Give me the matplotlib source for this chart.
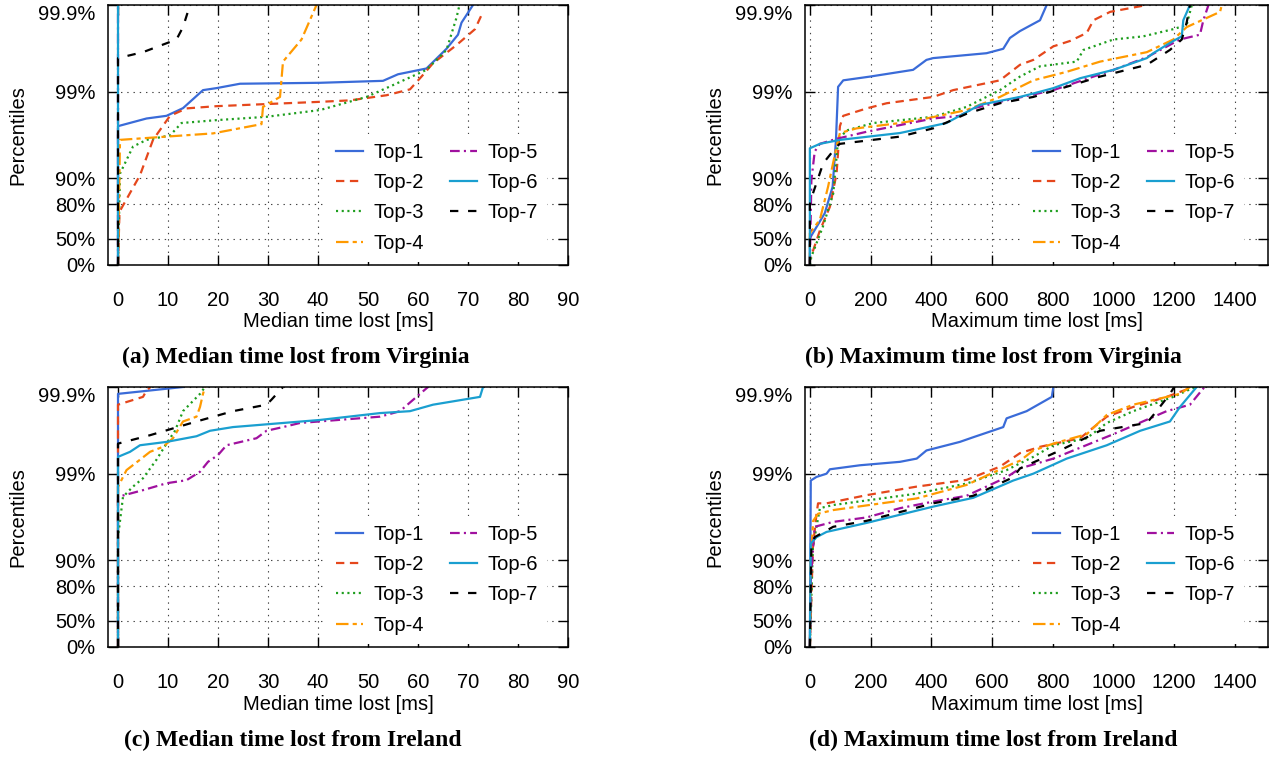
import numpy as np
import matplotlib
matplotlib.use('Agg')
import matplotlib.pyplot as plt

plt.rcParams['font.family'] = ['Liberation Sans', 'DejaVu Sans']
plt.rcParams['lines.scale_dashes'] = False

labels = ['Top-1', 'Top-2', 'Top-3', 'Top-4', 'Top-5', 'Top-6', 'Top-7']

# (a) median time lost from Virginia  (ms, percentile)
a1_ms = [0, 0, 5.7, 9.7, 13, 17, 19.7, 24.4, 40.4, 53, 56, 61.7, 65.7, 68, 68.7, 71]
a1_pct = [0, 97.5, 97.96, 98.1, 98.45, 99.04, 99.09, 99.19, 99.21, 99.25, 99.37, 99.46, 99.68, 99.78, 99.84, 99.9]
a2_ms = [0, 0.3, 4.4, 7, 10.4, 13.7, 19.7, 29.7, 40.4, 46.4, 53.7, 58.4, 60.7, 63, 67.7, 71.4, 73]
a2_pct = [0, 75.7, 90.8, 96.4, 98.1, 98.44, 98.53, 98.61, 98.69, 98.74, 98.9, 99.06, 99.33, 99.53, 99.71, 99.81, 99.88]
a3_ms = [0, 0.4, 3, 5.7, 10.4, 12.7, 19.7, 29.7, 40.4, 49.7, 55, 61.7, 65.7, 67.7, 68.3]
a3_pct = [0, 91.2, 95.7, 96.4, 96.8, 97.7, 97.87, 98.05, 98.37, 98.85, 99.16, 99.44, 99.67, 99.86, 99.9]
a4_ms = [0, 0.4, 9.7, 19, 28.7, 29, 32.4, 33, 36.7, 39.7]
a4_pct = [0, 96.4, 96.7, 96.97, 97.63, 98.5, 98.85, 99.55, 99.75, 99.9]
a5_ms = [0, 0]
a5_pct = [0, 99.9]
a6_ms = [0, 0]
a6_pct = [0, 99.9]
a7_ms = [0, 0, 5, 11.7, 13, 14.4]
a7_pct = [0, 99.59, 99.65, 99.75, 99.82, 99.9]

# (b) maximum time lost from Virginia
b1_ms = [0, 0, 49, 75, 86, 93, 110, 198, 340, 384, 406, 582, 637, 659, 692, 758, 780]
b1_pct = [0, 51, 74.7, 87.5, 96.4, 99.12, 99.26, 99.33, 99.44, 99.57, 99.59, 99.64, 99.68, 99.76, 99.8, 99.85, 99.9]
b2_ms = [0, 0, 33, 66, 88, 99, 110, 187, 253, 406, 472, 626, 692, 736, 802, 857, 912, 934, 989, 1110]
b2_pct = [0, 12, 60, 78.7, 91.2, 97.5, 98.1, 98.44, 98.64, 98.85, 99.04, 99.26, 99.51, 99.57, 99.7, 99.74, 99.79, 99.85, 99.88, 99.9]
b3_ms = [0, 5, 43, 77, 93, 121, 209, 406, 516, 626, 692, 758, 879, 901, 1000, 1098, 1197, 1241, 1258]
b3_pct = [0, 20, 64, 85, 96.4, 97.2, 97.7, 98.05, 98.5, 99.04, 99.33, 99.49, 99.55, 99.67, 99.75, 99.77, 99.81, 99.83, 99.9]
b4_ms = [0, 0, 33, 60, 88, 99, 154, 297, 384, 516, 626, 736, 846, 956, 1110, 1197, 1241, 1351, 1357]
b4_pct = [0, 57, 70, 87.5, 95.7, 97, 97.35, 97.7, 97.96, 98.37, 98.85, 99.26, 99.41, 99.55, 99.65, 99.75, 99.82, 99.88, 99.9]
b5_ms = [0, 5, 16, 33, 88, 187, 406, 494, 538, 626, 802, 1000, 1110, 1219, 1285, 1296, 1313]
b5_pct = [0, 89.5, 95.1, 96.0, 96.5, 97.1, 97.96, 98.1, 98.44, 98.69, 99.04, 99.44, 99.6, 99.75, 99.78, 99.85, 99.9]
b6_ms = [0, 0, 33, 99, 297, 450, 560, 692, 736, 802, 890, 1000, 1110, 1131, 1197, 1225, 1230, 1252]
b6_pct = [0, 95.5, 96.0, 96.4, 97.0, 97.7, 98.58, 98.85, 98.95, 99.09, 99.3, 99.44, 99.59, 99.64, 99.74, 99.77, 99.85, 99.9]
b7_ms = [0, 0, 10, 44, 88, 99, 297, 406, 516, 626, 736, 956, 1110, 1186, 1225, 1241, 1252]
b7_pct = [0, 80, 85, 93.3, 95.7, 96.0, 96.7, 97.35, 98.2, 98.64, 98.85, 99.33, 99.51, 99.67, 99.75, 99.84, 99.9]

# (c) median time lost from Ireland
c1_ms = [0, 0, 13]
c1_pct = [0, 99.88, 99.9]
c2_ms = [0, 0, 5, 5.7, 6.5]
c2_pct = [0, 99.84, 99.87, 99.89, 99.9]
c3_ms = [0, 0, 1, 3, 5, 7.7, 9.7, 11.4, 13, 16.4, 17.4]
c3_pct = [0, 94.6, 98.15, 98.59, 98.87, 99.31, 99.55, 99.68, 99.81, 99.88, 99.9]
c4_ms = [0, 0, 1.7, 4.4, 6.4, 9, 11, 13, 15.7, 16.4, 17, 17.4]
c4_pct = [0, 98.58, 99.09, 99.31, 99.44, 99.51, 99.61, 99.75, 99.78, 99.83, 99.88, 99.9]
c5_ms = [0, 0, 5, 9.7, 13.7, 16.4, 18, 20, 21.7, 27.7, 29.7, 33, 36.4, 52.4, 56.4, 59.7, 62]
c5_pct = [0, 98.15, 98.45, 98.71, 98.81, 99.05, 99.27, 99.39, 99.53, 99.61, 99.68, 99.71, 99.74, 99.78, 99.81, 99.87, 99.9]
c6_ms = [0, 0, 2.4, 4.4, 9.7, 15.7, 18.4, 23, 40.4, 52.4, 58.4, 63, 72.4, 73]
c6_pct = [0, 99.36, 99.44, 99.53, 99.57, 99.63, 99.68, 99.71, 99.76, 99.8, 99.81, 99.84, 99.87, 99.9]
c7_ms = [0, 0, 6.4, 15.7, 23, 29.7, 30.7, 33]
c7_pct = [0, 99.55, 99.64, 99.75, 99.81, 99.84, 99.86, 99.9]

# (d) maximum time lost from Ireland
d1_ms = [0, 3, 22, 55, 66, 165, 297, 352, 384, 494, 538, 637, 648, 714, 797, 802]
d1_pct = [0, 98.8, 98.91, 99.0, 99.11, 99.2, 99.27, 99.33, 99.46, 99.57, 99.62, 99.71, 99.77, 99.81, 99.87, 99.9]
d2_ms = [0, 10, 22, 27, 55, 187, 352, 516, 626, 692, 758, 890, 978, 1065, 1175, 1263]
d2_pct = [0, 93, 97.1, 97.8, 97.8, 98.23, 98.59, 98.82, 99.17, 99.42, 99.51, 99.61, 99.78, 99.83, 99.87, 99.9]
d3_ms = [0, 10, 33, 77, 352, 516, 648, 692, 736, 802, 912, 978, 1065, 1197, 1269]
d3_pct = [0, 93, 97.5, 97.7, 98.3, 98.7, 99.09, 99.24, 99.36, 99.53, 99.61, 99.74, 99.81, 99.87, 99.9]
d4_ms = [0, 3, 11, 27, 77, 352, 516, 670, 692, 736, 802, 912, 978, 1065, 1219, 1252]
d4_pct = [0, 90, 96.5, 97.1, 97.37, 98.07, 98.65, 99.24, 99.29, 99.46, 99.55, 99.65, 99.79, 99.84, 99.88, 99.9]
d5_ms = [0, 3, 11, 16, 77, 187, 297, 406, 516, 648, 692, 802, 1000, 1175, 1252, 1290, 1300]
d5_pct = [0, 83, 93, 95.9, 96.4, 96.8, 97.5, 97.9, 98.2, 98.9, 99.13, 99.33, 99.65, 99.81, 99.84, 99.89, 99.9]
d6_ms = [0, 3, 22, 55, 187, 406, 538, 670, 736, 846, 978, 1088, 1186, 1219, 1274]
d6_pct = [0, 93.6, 94.6, 95.3, 96.3, 97.6, 98.1, 98.8, 99.0, 99.33, 99.53, 99.68, 99.75, 99.83, 99.9]
d7_ms = [0, 5, 16, 77, 187, 406, 538, 670, 692, 824, 956, 1110, 1142, 1186, 1200]
d7_pct = [0, 93, 94.6, 95.9, 96.5, 97.8, 98.2, 98.9, 99.13, 99.46, 99.68, 99.74, 99.81, 99.88, 99.9]

colors = ['#3a6bd8', '#e5471c', '#1e9e1e', '#ff9a00', '#a0119f', '#1a9fd0', '#000000']
dashes = [None, (6, 4), (1.5, 2.6), (9, 3, 3, 3), (7, 3, 1.5, 3), None, (6, 7)]

ytick_pct = [0, 50, 80, 90, 99, 99.9]
ytick_lbl = ['0%', '50%', '80%', '90%', '99%', '99.9%']


def fwd(p):
    p = np.clip(np.asarray(p, dtype=float), 0, 99.999)
    return -np.log10(1 - p / 100.0)


def inv(v):
    return 100.0 * (1 - 10 ** (-np.asarray(v, dtype=float)))


W, H = 1270, 757
fig = plt.figure(figsize=(W / 100, H / 100), dpi=100)

FS = 14.5


def make_axes(left, top, right, bottom):
    return fig.add_axes([left / W, 1 - bottom / H, (right - left) / W, (bottom - top) / H])


def draw(ax, series, xticks, xlim, xlabel, title, title_xy, lab_y, legx):
    for i, (ms, pct) in enumerate(series):
        if dashes[i] is None:
            ax.plot(ms, pct, color=colors[i], lw=1.6, label=labels[i])
        else:
            ax.plot(ms, pct, color=colors[i], lw=1.6, linestyle=(0, dashes[i]), label=labels[i])
    ax.set_yscale('function', functions=(fwd, inv))
    ax.set_ylim(0, 99.9)
    ax.set_yticks(ytick_pct)
    ax.set_yticklabels(ytick_lbl)
    ax.get_yticklabels()[-1].set_va('top')
    ax.set_xlim(*xlim)
    ax.set_xticks(xticks)
    ax.minorticks_off()
    ax.grid(True, color='#444444', linestyle=(0, (1, 3.5)), lw=0.8)
    ax.tick_params(direction='in', top=True, right=True, length=7, width=1, labelsize=FS)
    ax.tick_params(axis='x', pad=19)
    ax.tick_params(axis='y', pad=9)
    for s in ax.spines.values():
        s.set_linewidth(1.1)
    ax.legend(ncol=2, loc='upper left', bbox_to_anchor=(legx, 0.505), borderaxespad=0,
              frameon=True, fancybox=False, facecolor='white', edgecolor='none', framealpha=1,
              fontsize=FS, handlelength=1.35, handletextpad=0.5, columnspacing=1.3,
              labelspacing=0.56, borderpad=0.45)
    # x label, title, y label
    bb = ax.get_position()
    fig.text((bb.x0 + bb.x1) / 2, 1 - lab_y / H, xlabel, ha='center', va='center', fontsize=FS)
    fig.text(title_xy[0] / W, 1 - title_xy[1] / H, title, ha='center', va='center',
             fontsize=17, fontweight='bold', family=['Liberation Serif', 'DejaVu Serif'])
    fig.text(bb.x0 - 90 / W, (bb.y0 + bb.y1) / 2, 'Percentiles', rotation=90,
             ha='center', va='center', fontsize=FS)


med_ticks = list(range(0, 91, 10))
max_ticks = list(range(0, 1401, 200))

ax_a = make_axes(108, 5, 568, 265)
draw(ax_a, [(a1_ms, a1_pct), (a2_ms, a2_pct), (a3_ms, a3_pct), (a4_ms, a4_pct),
            (a5_ms, a5_pct), (a6_ms, a6_pct), (a7_ms, a7_pct)],
     med_ticks, (-2, 90), 'Median time lost [ms]',
     '(a) Median time lost from Virginia', (296, 357), 321, 0.476)

ax_b = make_axes(805, 5, 1268, 265)
draw(ax_b, [(b1_ms, b1_pct), (b2_ms, b2_pct), (b3_ms, b3_pct), (b4_ms, b4_pct),
            (b5_ms, b5_pct), (b6_ms, b6_pct), (b7_ms, b7_pct)],
     max_ticks, (-16, 1509), 'Maximum time lost [ms]',
     '(b) Maximum time lost from Virginia', (993, 357), 321, 0.473)

ax_c = make_axes(108, 387, 568, 647)
draw(ax_c, [(c1_ms, c1_pct), (c2_ms, c2_pct), (c3_ms, c3_pct), (c4_ms, c4_pct),
            (c5_ms, c5_pct), (c6_ms, c6_pct), (c7_ms, c7_pct)],
     med_ticks, (-2, 90), 'Median time lost [ms]',
     '(c) Median time lost from Ireland', (293, 740), 704, 0.476)

ax_d = make_axes(805, 387, 1268, 647)
draw(ax_d, [(d1_ms, d1_pct), (d2_ms, d2_pct), (d3_ms, d3_pct), (d4_ms, d4_pct),
            (d5_ms, d5_pct), (d6_ms, d6_pct), (d7_ms, d7_pct)],
     max_ticks, (-16, 1509), 'Maximum time lost [ms]',
     '(d) Maximum time lost from Ireland', (993, 740), 704, 0.473)

fig.savefig('out.png', dpi=100)
